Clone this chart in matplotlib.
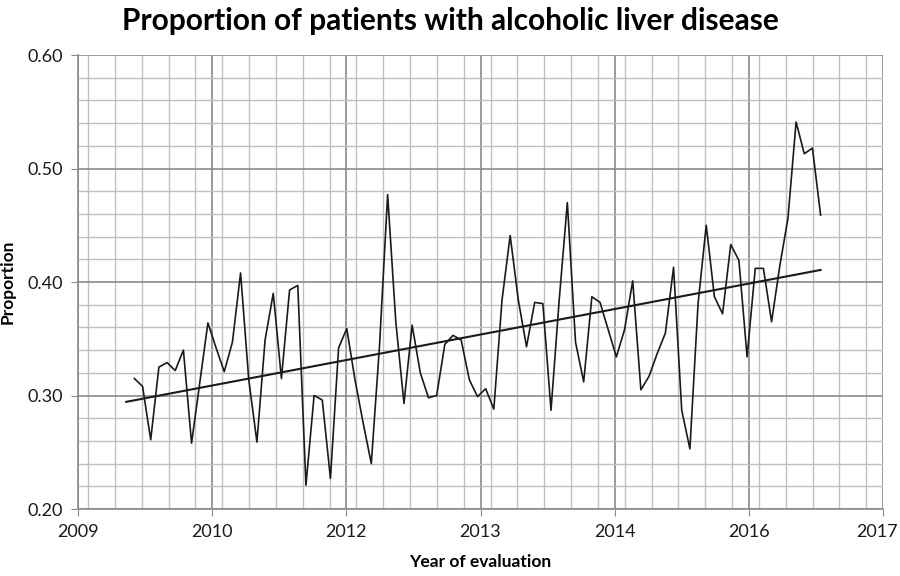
import numpy as np
import matplotlib
matplotlib.use("Agg")
import matplotlib.pyplot as plt
from matplotlib.ticker import MultipleLocator, FixedLocator
from matplotlib.transforms import ScaledTranslation

plt.rcParams["font.family"] = ["Lato", "DejaVu Sans"]

# Proportion per evaluation period
proportion = [
    0.315, 0.308, 0.261, 0.325, 0.329, 0.322, 0.340, 0.258, 0.311, 0.364,
    0.342, 0.321, 0.347, 0.408, 0.314, 0.259, 0.349, 0.390, 0.315, 0.393,
    0.397, 0.221, 0.300, 0.296, 0.227, 0.342, 0.359, 0.314, 0.276, 0.240,
    0.343, 0.477, 0.365, 0.293, 0.362, 0.320, 0.298, 0.300, 0.345, 0.353,
    0.349, 0.314, 0.299, 0.306, 0.288, 0.384, 0.441, 0.384, 0.343, 0.382,
    0.381, 0.287, 0.384, 0.470, 0.347, 0.312, 0.387, 0.382, 0.358, 0.334,
    0.358, 0.401, 0.305, 0.317, 0.337, 0.355, 0.413, 0.287, 0.253, 0.381,
    0.450, 0.387, 0.372, 0.433, 0.419, 0.334, 0.412, 0.412, 0.365, 0.414,
    0.456, 0.541, 0.513, 0.518, 0.459,
]
first_period = 2010.06   # decimal year of first point
last_period = 2016.88    # decimal year of last point

# Axis as drawn (Excel date axis: start mid-2009, major unit 16 months)
axis_start = 2009.5
major_step = 16 / 12
tick_labels = ["2009", "2010", "2012", "2013", "2014", "2016", "2017"]

x = np.linspace(first_period, last_period, len(proportion))
y = np.array(proportion)

# linear trend
slope, intercept = np.polyfit(x, y, 1)
trend_x = np.array([x[0] - (x[1] - x[0]), x[-1]])
trend_y = slope * trend_x + intercept

fig = plt.figure(figsize=(9, 5.76), dpi=100)
ax = fig.add_axes([0.0867, 0.1163, 0.8944, 0.7882])

major_ticks = [axis_start + i * major_step for i in range(len(tick_labels))]
ax.set_xlim(major_ticks[0], major_ticks[-1])
ax.set_ylim(0.20, 0.60)
ax.xaxis.set_major_locator(FixedLocator(major_ticks))
ax.xaxis.set_minor_locator(MultipleLocator(major_step / 5))
ax.set_xticks(major_ticks)
ax.set_xticklabels(tick_labels)
ax.yaxis.set_major_locator(MultipleLocator(0.1))
ax.yaxis.set_minor_locator(MultipleLocator(0.02))
ax.yaxis.set_major_formatter(plt.FuncFormatter(lambda v, p: f"{v:.2f}"))

ax.grid(which="major", color="#8a8a8a", linewidth=1.2)
ax.grid(which="minor", color="#c0c0c0", linewidth=1.0)
ax.set_axisbelow(True)

ax.plot(x, y, color="#1a1a1a", linewidth=1.2)
ax.plot(trend_x, trend_y, color="#1a1a1a", linewidth=1.5)

for s in ["top", "right"]:
    ax.spines[s].set_visible(False)
for s in ["left", "bottom"]:
    ax.spines[s].set_color("#8a8a8a")
    ax.spines[s].set_linewidth(1.2)

ax.tick_params(which="major", length=5, color="#8a8a8a", labelsize=13,
               labelcolor="#1a1a1a", pad=6)
ax.tick_params(which="minor", length=0)

# keep the last year label inside the figure
last_lbl = ax.get_xticklabels()[-1]
last_lbl.set_transform(last_lbl.get_transform() +
                       ScaledTranslation(-6 / 100, 0, fig.dpi_scale_trans))

ax.set_xlabel("Year of evaluation", fontsize=12.5, weight="bold", labelpad=10)
ax.set_ylabel("Proportion", fontsize=12.5, weight="bold")
ax.yaxis.set_label_coords(-0.078, 0.5)
fig.suptitle("Proportion of patients with alcoholic liver disease",
             x=0.5, y=0.987, fontsize=21.5, weight="bold", va="top")

fig.savefig("out.png", dpi=100)
